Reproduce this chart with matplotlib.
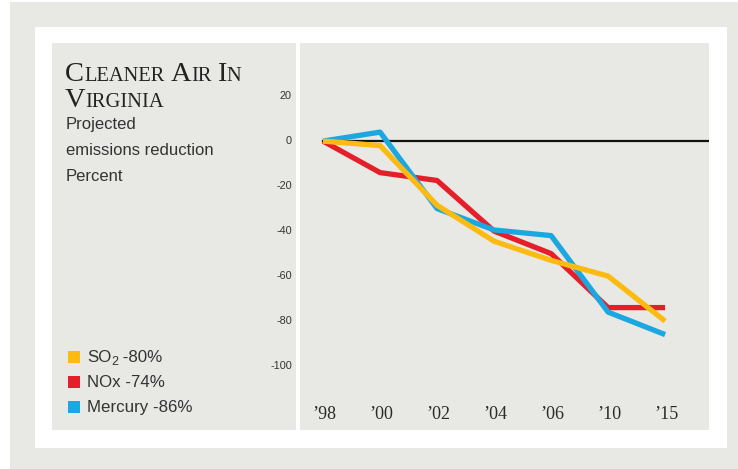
import numpy as np
from matplotlib import pyplot as plt
from matplotlib.patches import Rectangle
from matplotlib.transforms import IdentityTransform

# data
years = ["\u201998", "\u201900", "\u201902", "\u201904", "\u201906", "\u201910", "\u201915"]
so2 = [0, -2, -28.5, -44.5, -53, -60, -80]
nox = [0, -14, -17.5, -40, -50, -74, -74]
mercury = [0, 4, -30, -39.5, -42, -76, -86]
yticks = [20, 0, -20, -40, -60, -80, -100]
legend_parts = [("SO", "2", " -80%"), ("NOx -74%", "", ""), ("Mercury -86%", "", "")]

c_so2 = "#fdbb12"
c_nox = "#e41f2a"
c_hg = "#1ba7df"
bg = "#e8e8e5"
W, H = 738, 469

fig = plt.figure(figsize=(W / 100, H / 100), dpi=100, facecolor=bg)
pix = IdentityTransform()
r = fig.canvas.get_renderer()


def box(x0, y0, x1, y1, color):
    # pixel coords from top-left
    fig.add_artist(Rectangle((x0, H - y1), x1 - x0, y1 - y0, transform=pix,
                             facecolor=color, edgecolor="none", zorder=0))


box(0, 0, 10, H, "white")
box(0, 0, W, 2, "white")
box(35, 27, 727, 448, "white")
box(52, 43, 296, 430, bg)

# axes: right panel 300..709, 43..430
ax = fig.add_axes([300 / W, 1 - 430 / H, 409 / W, 387 / H])
ax.set_facecolor(bg)
for s in ax.spines.values():
    s.set_visible(False)
x = np.arange(len(years))
ax.set_xlim(-0.404, 6.77)
ax.set_ylim(-128.4, 43.6)
ax.axhline(0, xmin=0.404 / 7.174, xmax=1, color="#111111", lw=1.6, zorder=1)
ax.plot(x, nox, color=c_nox, lw=3.8, solid_capstyle="butt", zorder=2)
ax.plot(x, mercury, color=c_hg, lw=3.8, solid_capstyle="butt", zorder=3)
ax.plot(x, so2, color=c_so2, lw=3.8, solid_capstyle="butt", zorder=4)
ax.set_xticks([])
ax.set_yticks([])

# x labels
for i, lab in enumerate(years):
    ax.text(i + 0.02, -121.5, lab, ha="center", va="center", fontsize=13,
            family="Liberation Serif", color="#2a2a2a")

# y labels (in left panel)
for v in yticks:
    fig.text(292, H - (141 - v * 2.25), str(v), transform=pix, ha="right",
             va="center", fontsize=7.8, family="Liberation Sans", color="#333333")


def smallcaps(x0, y0, s, big, small):
    xx = x0
    for word in s.split():
        for i, part in enumerate([word[0], word[1:]]):
            if not part:
                continue
            t = fig.text(xx, H - y0, part, transform=pix, va="baseline", ha="left",
                         fontsize=big if i == 0 else small,
                         family="Liberation Serif", color="#222222")
            xx = t.get_window_extent(r).x1
        xx += small * 0.4


smallcaps(65, 81, "CLEANER AIR IN", 20.5, 14.8)
smallcaps(65, 107, "VIRGINIA", 20.5, 14.8)

for yy, s in [(124, "Projected"), (150, "emissions reduction"), (176, "Percent")]:
    fig.text(66, H - yy, s, transform=pix, va="center", ha="left", fontsize=12,
             family="Liberation Sans", color="#333333")

# legend
for yy, parts, col in zip([357, 382, 407], legend_parts, [c_so2, c_nox, c_hg]):
    box(68, yy - 6, 80, yy + 6, col)
    base = H - yy - 4.5
    xx = 87
    for k, part in enumerate(parts):
        if not part:
            continue
        t = fig.text(xx, base - (3 if k == 1 else 0), part, transform=pix,
                     va="baseline", ha="left", fontsize=9 if k == 1 else 12.2,
                     family="Liberation Sans", color="#333333")
        xx = t.get_window_extent(r).x1

plt.savefig("out.png", dpi=100, facecolor=bg)
